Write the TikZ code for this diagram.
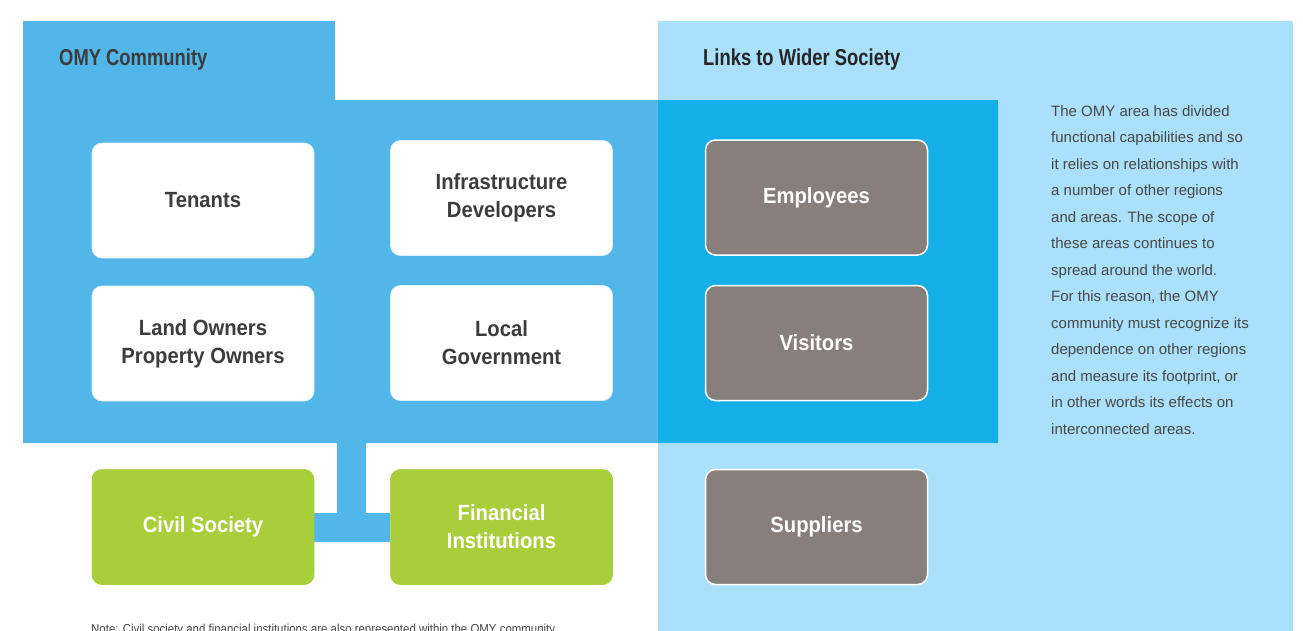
\documentclass[tikz,border=0pt]{standalone}
\usepackage{fontspec}
\setmainfont{Liberation Sans}
\newfontfamily\headfont{Liberation Sans}[FakeStretch=0.80]
\newfontfamily\boxfont{Liberation Sans}[FakeStretch=0.92]
\newfontfamily\notefont{Liberation Sans}[FakeStretch=0.88]
\definecolor{midblue}{HTML}{52B6E8}
\definecolor{darkcyan}{HTML}{14AFE6}
\definecolor{lightblue}{HTML}{AAE0FA}
\definecolor{boxgray}{HTML}{877F7C}
\definecolor{boxgreen}{HTML}{A8CE3A}
\definecolor{txtdark}{HTML}{3C3C3C}
\definecolor{txtbody}{HTML}{474747}
\tikzset{
  card/.style={rounded corners=10pt, minimum width=222pt, minimum height=115pt,
    inner sep=0pt, align=center, font=\boxfont\bfseries\fontsize{22}{28}\selectfont},
  whitecard/.style={card, fill=white, draw=white!80!midblue, line width=0.8pt, text=txtdark},
  graycard/.style={card, fill=boxgray, draw=white, line width=1.5pt, text=white},
  greencard/.style={card, fill=boxgreen, draw=boxgreen, text=white},
  heading/.style={anchor=base west, inner sep=0pt, font=\headfont\bfseries\fontsize{23}{28}\selectfont},
  conn/.style={draw=midblue, line width=29pt},
}
\begin{document}
\begin{tikzpicture}[x=1pt,y=-1pt]
\useasboundingbox (0,0) rectangle (1303,630);
\fill[white] (0,0) rectangle (1303,630);
% panels
\fill[lightblue] (658,21) rectangle (1293,640);
\fill[midblue] (23,21) -- (335,21) -- (335,100) -- (998,100) -- (998,443) -- (23,443) -- cycle;
\fill[darkcyan] (658,100) rectangle (998,443);
% headings
\node[heading, text=txtdark] (h1) at (59,65) {OMY Community};
\node[heading, text=black!85] (h2) at (703,65) {Links to Wider Society};
% connector
\node[greencard] (civil) at (203,527) {Civil Society};
\node[greencard] (fin) at (501.5,527) {Financial\\Institutions};
\coordinate (jt) at (351.5,443);
\draw[conn] (jt) -- (jt |- civil.east);
\draw[conn] (civil.east) -- (fin.west);
\node[greencard] at (civil) {Civil Society};
\node[greencard] at (fin) {Financial\\Institutions};
% white cards
\node[whitecard] (ten) at (203,200.5) {Tenants};
\node[whitecard] (inf) at (501.5,198) {Infrastructure\\Developers};
\node[whitecard] (land) at (203,343.5) {Land Owners\\Property Owners};
\node[whitecard] (gov) at (501.5,343) {Local\\Government};
% gray cards
\node[graycard] (emp) at (816.5,197.5) {Employees};
\node[graycard] (vis) at (816.5,343) {Visitors};
\node[graycard] (sup) at (816.5,527) {Suppliers};
% body text
\node[anchor=north west, inner sep=0pt, align=left, text=txtbody,
  font=\fontsize{15}{26.5}\selectfont] (body) at (1051,105) {%
The OMY area has divided\\
functional capabilities and so\\
it relies on relationships with\\
a number of other regions\\
and areas. The scope of\\
these areas continues to\\
spread around the world.\\
For this reason, the OMY\\
community must recognize its\\
dependence on other regions\\
and measure its footprint, or\\
in other words its effects on\\
interconnected areas.};
% note
\node[anchor=base west, inner sep=0pt, text=txtbody, font=\notefont\fontsize{13}{16}\selectfont] (note) at (91,633)
  {Note: Civil society and financial institutions are also represented within the OMY community};
\end{tikzpicture}
\end{document}
